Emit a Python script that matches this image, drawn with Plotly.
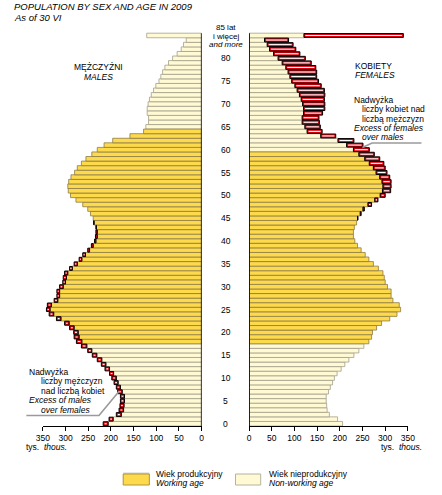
import plotly.graph_objects as go

# ---------------- data (thousands) ----------------
ages = list(range(86))  # 85 = "85 and more"
male = [217, 204, 188, 182, 180, 179, 179, 185, 188, 193,
        198, 203, 213, 221, 230, 241, 251, 265, 276, 281,
        282, 291, 302, 320, 336, 342, 340, 325, 319, 319,
        313, 306, 305, 302, 291, 281, 270, 262, 251, 243,
        236, 234, 233, 233, 238, 239, 245, 251, 262, 277,
        289, 294, 295, 293, 288, 280, 274, 265, 255, 242,
        230, 215, 196, 158, 128, 123, 117, 117, 120, 120,
        118, 115, 111, 106, 101, 94, 90, 86, 81, 73,
        64, 54, 45, 40, 34, 121]
female = [206, 195, 177, 172, 171, 170, 170, 175, 179, 184,
          188, 194, 203, 211, 220, 231, 242, 253, 264, 270,
          272, 281, 292, 310, 326, 334, 331, 317, 313, 313,
          305, 300, 298, 295, 285, 274, 264, 256, 247, 239,
          233, 230, 230, 232, 237, 240, 247, 254, 270, 284,
          300, 312, 313, 313, 310, 304, 300, 297, 288, 276,
          265, 251, 231, 191, 161, 157, 155, 154, 162, 167,
          167, 166, 167, 166, 159, 153, 149, 149, 147, 137,
          124, 112, 103, 97, 87, 340]
assert len(male) == 86 and len(female) == 86
male_working = (18, 64)
female_working = (18, 59)
tick_vals = [0, 50, 100, 150, 200, 250, 300, 350]
age_labels = [0, 5, 10, 15, 20, 25, 30, 35, 40, 45, 50, 55, 60, 65, 70, 75, 80]

# ---------------- styling ----------------
W, H = 442, 495
FONT = "Liberation Sans, Arial, sans-serif"
GOLD, GOLD_LINE = "#FDD94C", "#8d7b45"
PALE, PALE_LINE = "#FFF9D4", "#a3a08c"
RED = "#E30613"


def px(x):
    return x / W


def py(y):
    return 1 - y / H


fig = go.Figure()


def add_side(vals, other, working, xa):
    lo, hi = working
    inner = [min(v, o) for v, o in zip(vals, other)]
    work = [a for a in ages if lo <= a <= hi]
    non = [a for a in ages if a < lo or a > hi]
    for grp, fill, line in ((non, PALE, PALE_LINE), (work, GOLD, GOLD_LINE)):
        fig.add_trace(go.Bar(
            y=grp, x=[inner[a] for a in grp], orientation="h", width=1,
            marker=dict(color=fill, line=dict(color=line, width=0.8)),
            xaxis=xa, yaxis="y", hoverinfo="skip", showlegend=False))
    exc = [a for a in ages if vals[a] > other[a]]
    fig.add_trace(go.Bar(
        y=exc, x=[vals[a] - other[a] for a in exc], base=[other[a] for a in exc],
        orientation="h", width=0.86,
        marker=dict(color=RED, line=dict(color="black", width=1.0)),
        xaxis=xa, yaxis="y", hoverinfo="skip", showlegend=False))
    stripe = [a for a in exc if vals[a] - other[a] > 5]
    ins = [min(3.2, (vals[a] - other[a]) * 0.3) for a in stripe]
    fig.add_trace(go.Bar(
        y=stripe, x=[vals[a] - other[a] - 2 * i for a, i in zip(stripe, ins)],
        base=[other[a] + i for a, i in zip(stripe, ins)],
        orientation="h", width=0.24,
        marker=dict(color="white", line=dict(width=0)),
        xaxis=xa, yaxis="y", hoverinfo="skip", showlegend=False))


add_side(male, female, male_working, "x")
add_side(female, male, female_working, "x2")

axis_common = dict(
    tickvals=tick_vals, ticks="outside", ticklen=4, tickwidth=1, tickcolor="black",
    showline=True, linecolor="black", linewidth=1, showgrid=False, zeroline=False,
    tickfont=dict(family=FONT, size=8.5, color="black"), anchor="y", fixedrange=True,
)

fig.update_layout(
    width=W, height=H, margin=dict(l=0, r=0, t=0, b=0),
    paper_bgcolor="white", plot_bgcolor="white", barmode="overlay",
    showlegend=False,
    xaxis=dict(domain=[px(37), px(201)], range=[350, 0], **axis_common),
    xaxis2=dict(domain=[px(250), px(414)], range=[0, 350], **axis_common),
    yaxis=dict(domain=[py(426), py(30)], range=[-0.5, 86.2], showticklabels=False,
               showgrid=False, zeroline=False, showline=False, fixedrange=True),
)

shapes = []
# zero lines of both panels
shapes.append(dict(type="line", xref="x", yref="y", x0=0, x1=0, y0=-0.5, y1=85.5,
                   line=dict(color="black", width=1.5)))
shapes.append(dict(type="line", xref="x2", yref="y", x0=0, x1=0, y0=-0.5, y1=85.5,
                   line=dict(color="black", width=1.5)))
# leader lines
shapes.append(dict(type="path", xref="paper", yref="paper",
                   path=f"M {px(20)},{py(415.5)} L {px(95)},{py(415.5)} L {px(116)},{py(391)}",
                   line=dict(color="#9a9a9a", width=1.6)))
shapes.append(dict(type="path", xref="paper", yref="paper",
                   path=f"M {px(367)},{py(147.5)} L {px(377)},{py(143)} L {px(428)},{py(143)}",
                   line=dict(color="#9a9a9a", width=1.6)))
# legend swatches
shapes.append(dict(type="rect", xref="paper", yref="paper", x0=px(120), x1=px(147),
                   y0=py(485), y1=py(472.5), fillcolor="#cfcfcf", line=dict(width=0)))
shapes.append(dict(type="rect", xref="paper", yref="paper", x0=px(120), x1=px(147),
                   y0=py(485), y1=py(474), fillcolor=GOLD, line=dict(color="#b0963c", width=1)))
shapes.append(dict(type="rect", xref="paper", yref="paper", x0=px(236), x1=px(262),
                   y0=py(485), y1=py(474), fillcolor=PALE, line=dict(color="#b5b29e", width=1)))
fig.update_layout(shapes=shapes)

ann = []


def text(x, y, s, size=8.5, xanchor="left", italic=False, yanchor="middle"):
    if italic:
        s = f"<i>{s}</i>"
    ann.append(dict(x=px(x), y=py(y), xref="paper", yref="paper", text=s, showarrow=False,
                    xanchor=xanchor, yanchor=yanchor,
                    font=dict(family=FONT, size=size, color="black")))


# title
text(5, 7, "POPULATION BY SEX AND AGE IN 2009", size=9.5, italic=True)
text(5, 17.5, "As of 30 VI", size=9.5, italic=True)
# panel captions
text(94, 67, "MĘŻCZYŹNI", xanchor="center")
text(94, 77, "MALES", xanchor="center", italic=True)
text(357, 66, "KOBIETY")
text(357, 75, "FEMALES", italic=True)
# excess notes
text(356, 100, "Nadwyżka")
text(365, 109.5, "liczby kobiet nad")
text(365, 118.5, "liczbą mężczyzn")
text(356, 127.5, "Excess of females", italic=True)
text(365, 137, "over males", italic=True)
text(21, 372, "Nadwyżka")
text(33, 381, "liczby mężczyzn")
text(33, 390.5, "nad liczbą kobiet")
text(21, 400, "Excess of males", italic=True)
text(33, 409.5, "over females", italic=True)
# units
text(18, 447, "tys.  <i>thous.</i>", size=8.5)
text(431, 447, "tys.  <i>thous.</i>", size=8.5, xanchor="right")
# legend labels
text(152, 474, "Wiek produkcyjny")
text(152, 483, "Working age", italic=True)
text(268, 474, "Wiek nieprodukcyjny")
text(268, 483, "Non-working age", italic=True)
# age labels in the middle column
for a in age_labels:
    ann.append(dict(x=px(226), y=a, xref="paper", yref="y", text=str(a), showarrow=False,
                    xanchor="center", yanchor="middle",
                    font=dict(family=FONT, size=8.5, color="black")))
ann.append(dict(x=px(226), y=py(27.5), xref="paper", yref="paper", text="85 lat", showarrow=False,
                xanchor="center", yanchor="middle", font=dict(family=FONT, size=8, color="black")))
ann.append(dict(x=px(226), y=py(36), xref="paper", yref="paper", text="i więcej", showarrow=False,
                xanchor="center", yanchor="middle", font=dict(family=FONT, size=8, color="black")))
ann.append(dict(x=px(226), y=py(44.5), xref="paper", yref="paper", text="<i>and more</i>", showarrow=False,
                xanchor="center", yanchor="middle", font=dict(family=FONT, size=8, color="black")))
fig.update_layout(annotations=ann)

fig.write_html("out.html", config={"displayModeBar": False, "staticPlot": True},
               post_script="document.body.style.margin='0px';")
